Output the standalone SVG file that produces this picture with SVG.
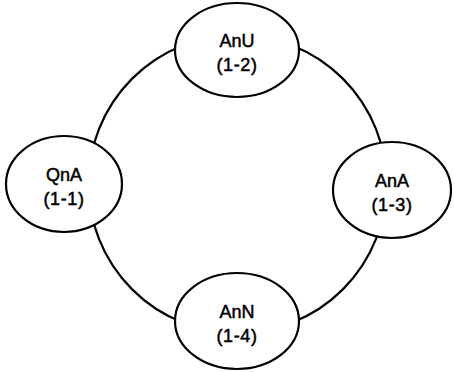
<svg xmlns="http://www.w3.org/2000/svg" width="454" height="372" viewBox="0 0 454 372">
  <style>
    .node ellipse { fill: #ffffff; stroke: #000000; stroke-width: 2.2; }
    .node text { font-family: "Liberation Sans", Arial, sans-serif; font-size: 18px; fill: #000000; stroke: #000000; stroke-width: 0.5; text-anchor: middle; }
    .conn { fill: none; stroke: #000000; stroke-width: 2.2; }
  </style>
  <rect width="454" height="372" fill="#ffffff"/>
  <g id="connectors">
    <circle class="conn" cx="237.5" cy="184" r="149"/>
  </g>
  <g id="node-AnU" class="node">
    <ellipse cx="237" cy="50" rx="62" ry="47"/>
    <text x="237" y="47">AnU</text>
    <text x="237" y="71" letter-spacing="0.6">(1-2)</text>
  </g>
  <g id="node-QnA" class="node">
    <ellipse cx="64" cy="184" rx="58" ry="48"/>
    <text x="64" y="181">QnA</text>
    <text x="64" y="205" letter-spacing="0.6">(1-1)</text>
  </g>
  <g id="node-AnA" class="node">
    <ellipse cx="392" cy="190" rx="59" ry="48"/>
    <text x="392" y="187">AnA</text>
    <text x="392" y="211" letter-spacing="0.6">(1-3)</text>
  </g>
  <g id="node-AnN" class="node">
    <ellipse cx="237" cy="321" rx="62" ry="48"/>
    <text x="237" y="318">AnN</text>
    <text x="237" y="342" letter-spacing="0.6">(1-4)</text>
  </g>
</svg>
